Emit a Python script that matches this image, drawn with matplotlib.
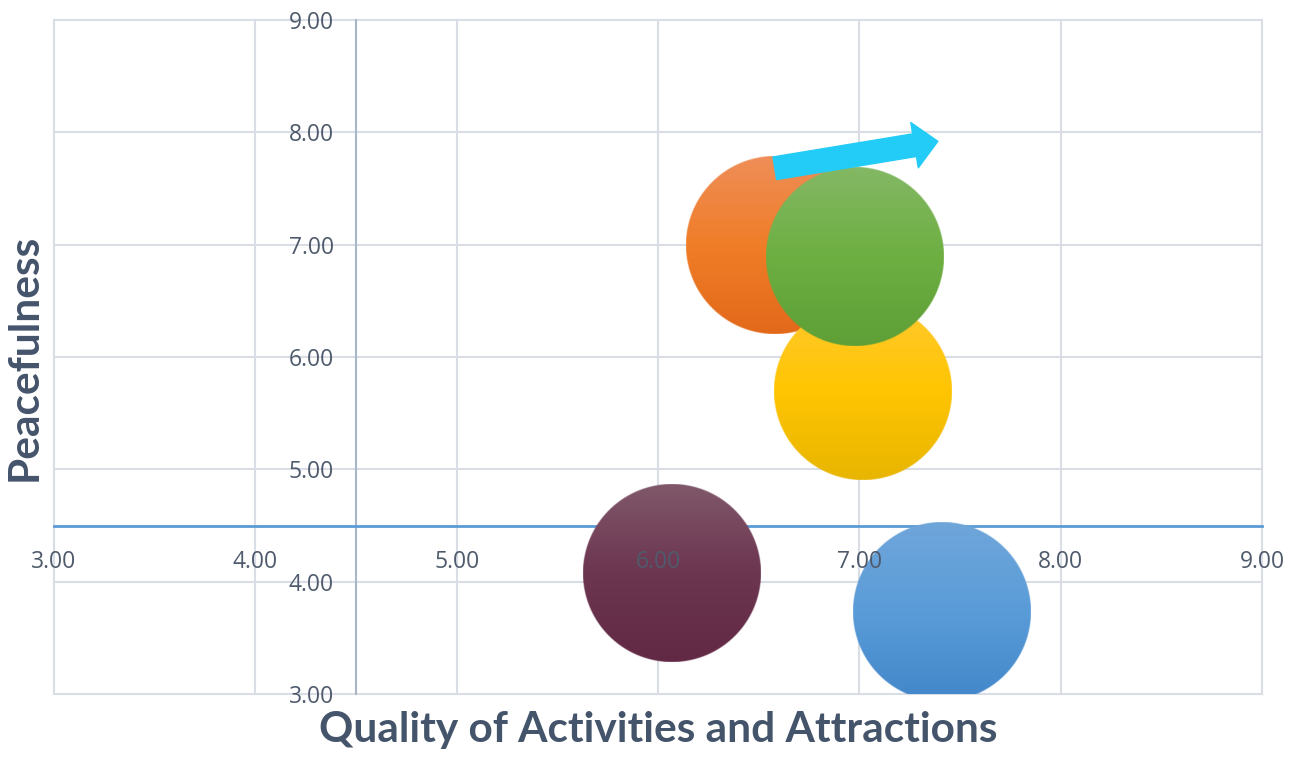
import numpy as np
import matplotlib.pyplot as plt
from matplotlib.patches import FancyArrowPatch
from matplotlib.colors import to_rgb

# bubble data: activities/attractions quality vs. peacefulness
activities = [6.58, 7.02, 6.98, 6.07, 7.41]
peacefulness = [7.00, 5.70, 6.89, 4.08, 3.73]
bubble_size = [1.0, 1.0, 1.0, 1.0, 1.0]
# gradient colours (top, middle, bottom) for each bubble
bubble_colors = [
    ("#EE8E58", "#F07D28", "#E2691A"),  # orange
    ("#FFC92E", "#FFC502", "#E8B500"),  # yellow
    ("#84B865", "#6DAF41", "#5E9F37"),  # green
    ("#80586A", "#6C3550", "#612944"),  # maroon
    ("#6FA6DA", "#5A9CD8", "#4287CA"),  # blue
]
ticks = [3, 4, 5, 6, 7, 8, 9]
tick_labels = ["3.00", "4.00", "5.00", "6.00", "7.00", "8.00", "9.00"]
cross_at = 4.5
arrow_start = (6.58, 7.68)
arrow_end = (7.39, 7.92)

fig = plt.figure(figsize=(12.97, 7.57), dpi=100)
ax = fig.add_axes([54 / 1297, 63 / 757, 1208 / 1297, 674 / 757])
ax.set_xlim(3, 9)
ax.set_ylim(3, 9)

# grid drawn by hand so the tick labels can sit above the bubbles
grid_col = "#D9DEE6"
for t in ticks:
    ax.axvline(t, color=grid_col, lw=1.5, zorder=0.5, clip_on=False)
    ax.axhline(t, color=grid_col, lw=1.5, zorder=0.5, clip_on=False)
ax.grid(False)

for side in ["top", "right"]:
    ax.spines[side].set_visible(False)
ax.spines["left"].set_position(("data", cross_at))
ax.spines["bottom"].set_position(("data", cross_at))
ax.spines["left"].set_color("#A9B6C8")
ax.spines["left"].set_linewidth(1.5)
ax.spines["bottom"].set_color("#5B9BD5")
ax.spines["bottom"].set_linewidth(2)
ax.spines["left"].set_zorder(1)
ax.spines["bottom"].set_zorder(1)

ax.set_xticks(ticks)
ax.set_xticklabels(tick_labels)
ax.set_yticks(ticks)
ax.set_yticklabels(tick_labels)
ax.tick_params(axis="both", length=0, labelsize=16.5, labelcolor="#4F5B6C")
ax.tick_params(axis="x", pad=18)
ax.tick_params(axis="y", pad=16)
for lab in ax.get_xticklabels() + ax.get_yticklabels():
    lab.set_fontfamily("Open Sans")
ax.xaxis.set_zorder(4)
ax.yaxis.set_zorder(4)

# bubbles: vertical gradient images with a soft circular alpha mask
radius_px = 89
px_x = ax.transData.transform((1, 0))[0] - ax.transData.transform((0, 0))[0]
px_y = ax.transData.transform((0, 1))[1] - ax.transData.transform((0, 0))[1]
n = 360
yy, xx = np.mgrid[0:n, 0:n]
c = (n - 1) / 2
dist = np.hypot(xx - c, yy - c) / (n / 2)
t = np.linspace(0, 1, n)[:, None]
for x, y, s, cols in zip(activities, peacefulness, bubble_size, bubble_colors):
    r = radius_px * np.sqrt(s)
    alpha = np.clip((1 - dist) * r + 0.5, 0, 1)
    top, mid, bot = [np.array(to_rgb(col)) for col in cols]
    upper = top + (mid - top) * np.clip(t * 2, 0, 1)
    lower = mid + (bot - mid) * np.clip(t * 2 - 1, 0, 1)
    rgb = np.where(t < 0.5, upper, lower)
    img = np.zeros((n, n, 4))
    img[..., :3] = rgb[:, None, :] * np.ones((1, n, 1))
    img[..., 3] = alpha
    rx = r / px_x
    ry = r / px_y
    ax.imshow(img, extent=[x - rx, x + rx, y - ry, y + ry], origin="upper",
              aspect="auto", zorder=3, interpolation="antialiased")

ax.set_xlim(3, 9)
ax.set_ylim(3, 9)

arrow = FancyArrowPatch(arrow_start, arrow_end,
                        arrowstyle="simple,head_length=17,head_width=33,tail_width=16.5",
                        mutation_scale=1, color="#22CCF6", shrinkA=0, shrinkB=0,
                        zorder=5)
ax.add_patch(arrow)

title_kw = dict(fontsize=30.5, fontweight="bold", color="#44546A", fontfamily="Lato")
ax.set_xlabel("Quality of Activities and Attractions", **title_kw)
ax.set_ylabel("Peacefulness", **title_kw)
ax.xaxis.set_label_coords((658 - 54) / 1208, (27 - 63) / 674)
ax.yaxis.set_label_coords((25 - 54) / 1208, 0.5)
ax.xaxis.label.set_va("center")
ax.yaxis.label.set_va("center")

fig.savefig("out.png", dpi=100)
